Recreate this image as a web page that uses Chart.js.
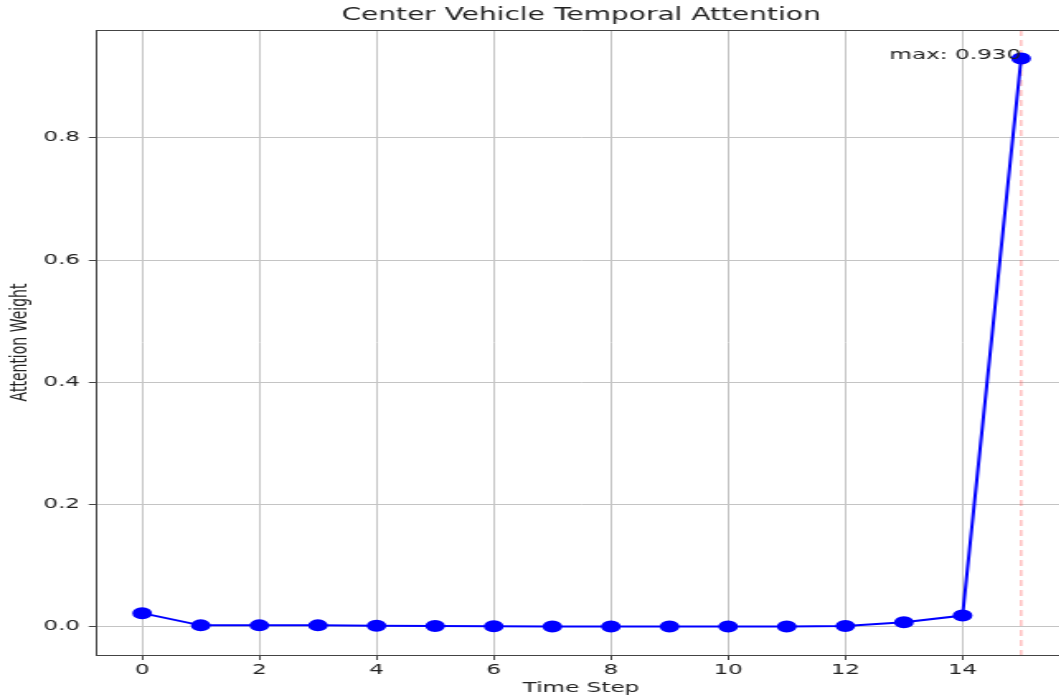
<!DOCTYPE html>
<html>
<head>
<meta charset="utf-8">
<script src="https://cdn.jsdelivr.net/npm/chart.js@4.4.0/dist/chart.umd.min.js"></script>
<style>
  html, body { margin: 0; padding: 0; background: #fff; overflow: hidden; }
  #wrap { width: 1059px; height: 697px; overflow: hidden; position: relative; }
  /* a imagem de referência está esticada na horizontal */
  #c { width: 651px; height: 697px; transform: scaleX(1.65); transform-origin: 0 0; }
</style>
</head>
<body>
<div id="wrap"><canvas id="c" width="651" height="697"></canvas></div>
<script>
// valores
const passos = [0, 1, 2, 3, 4, 5, 6, 7, 8, 9, 10, 11, 12, 13, 14, 15];
const pesos = [0.022, 0.002, 0.002, 0.002, 0.0015, 0.0008, 0.0005, 0.0002,
  0.0001, 0.0001, 0.0001, 0.0003, 0.0008, 0.0072, 0.018, 0.930];
const ticksX = [0, 2, 4, 6, 8, 10, 12, 14];
const ticksY = [0, 0.2, 0.4, 0.6, 0.8];

const fonte = 'DejaVu Sans';
const corTexto = '#222';

const idxMax = pesos.indexOf(Math.max(...pesos));

const pontos = passos.map((p, i) => ({ x: p, y: pesos[i] }));

/**
 * Linha vermelha no máximo, borda superior e rótulo do máximo.
 */
const extras = {
  id: 'extras',
  beforeDatasetsDraw(chart) {
    const { ctx, chartArea, scales } = chart;
    const x = scales.x.getPixelForValue(passos[idxMax]);
    ctx.save();
    ctx.strokeStyle = 'rgba(255, 80, 80, 0.4)';
    ctx.lineWidth = 1.4;
    ctx.setLineDash([6, 4]);
    ctx.beginPath();
    ctx.moveTo(x, chartArea.top);
    ctx.lineTo(x, chartArea.bottom);
    ctx.stroke();
    ctx.restore();
  },
  afterDraw(chart) {
    const { ctx, chartArea, scales } = chart;
    ctx.save();
    // borda de cima
    ctx.strokeStyle = '#444';
    ctx.lineWidth = 1;
    ctx.beginPath();
    ctx.moveTo(chartArea.left, chartArea.top + 0.5);
    ctx.lineTo(chartArea.right, chartArea.top + 0.5);
    ctx.stroke();
    // rótulo
    const x = scales.x.getPixelForValue(passos[idxMax]);
    const y = scales.y.getPixelForValue(pesos[idxMax]);
    ctx.fillStyle = corTexto;
    ctx.font = `14px "${fonte}"`;
    ctx.textAlign = 'right';
    ctx.textBaseline = 'middle';
    ctx.fillText(`max: ${pesos[idxMax].toFixed(3)}`, x, y - 3);
    ctx.restore();
  },
};

new Chart(document.getElementById('c'), {
  type: 'line',
  data: {
    datasets: [
      {
        data: pontos,
        borderColor: '#0000ff',
        backgroundColor: '#0000ff',
        borderWidth: 2,
        pointRadius: 5,
        pointHoverRadius: 5,
        tension: 0,
        clip: false,
      },
    ],
  },
  options: {
    responsive: false,
    devicePixelRatio: 1,
    animation: false,
    layout: { autoPadding: false, padding: { left: 0, right: 5.5, top: 0, bottom: 0 } },
    plugins: {
      legend: { display: false },
      tooltip: { enabled: false },
      title: {
        display: true,
        text: 'Center Vehicle Temporal Attention',
        color: corTexto,
        fullSize: false,
        font: { family: fonte, size: 17, weight: 'normal', lineHeight: 20 / 17 },
        padding: { top: 6, bottom: 4 },
      },
    },
    scales: {
      x: {
        type: 'linear',
        min: -0.77,
        max: 15.75,
        afterBuildTicks: (s) => { s.ticks = ticksX.map((v) => ({ value: v })); },
        afterFit: (s) => { s.height = 42; },
        ticks: {
          color: corTexto,
          font: { family: fonte, size: 14 },
          padding: 2,
          maxRotation: 0,
          autoSkip: false,
        },
        grid: { color: '#c4c4c4', lineWidth: 1, tickColor: '#444', tickLength: 5 },
        border: { color: '#444', width: 1 },
        title: {
          display: true,
          text: 'Time Step',
          color: corTexto,
          font: { family: fonte, size: 14 },
          padding: { top: 0, bottom: 0.6 },
        },
      },
      y: {
        min: -0.0465,
        max: 0.9765,
        afterBuildTicks: (s) => { s.ticks = ticksY.map((v) => ({ value: v })); },
        afterFit: (s) => { s.width = 58.79; },
        ticks: {
          color: corTexto,
          font: { family: fonte, size: 14 },
          padding: 5.3,
          callback: (v) => v.toFixed(1),
        },
        grid: { color: '#c4c4c4', lineWidth: 1, tickColor: '#444', tickLength: 5 },
        border: { color: '#444', width: 1 },
        title: {
          display: true,
          text: 'Attention Weight',
          color: corTexto,
          font: { family: fonte, size: 14 },
          padding: { top: 3.7, bottom: 0 },
        },
      },
    },
  },
  plugins: [extras],
});
</script>
</body>
</html>
